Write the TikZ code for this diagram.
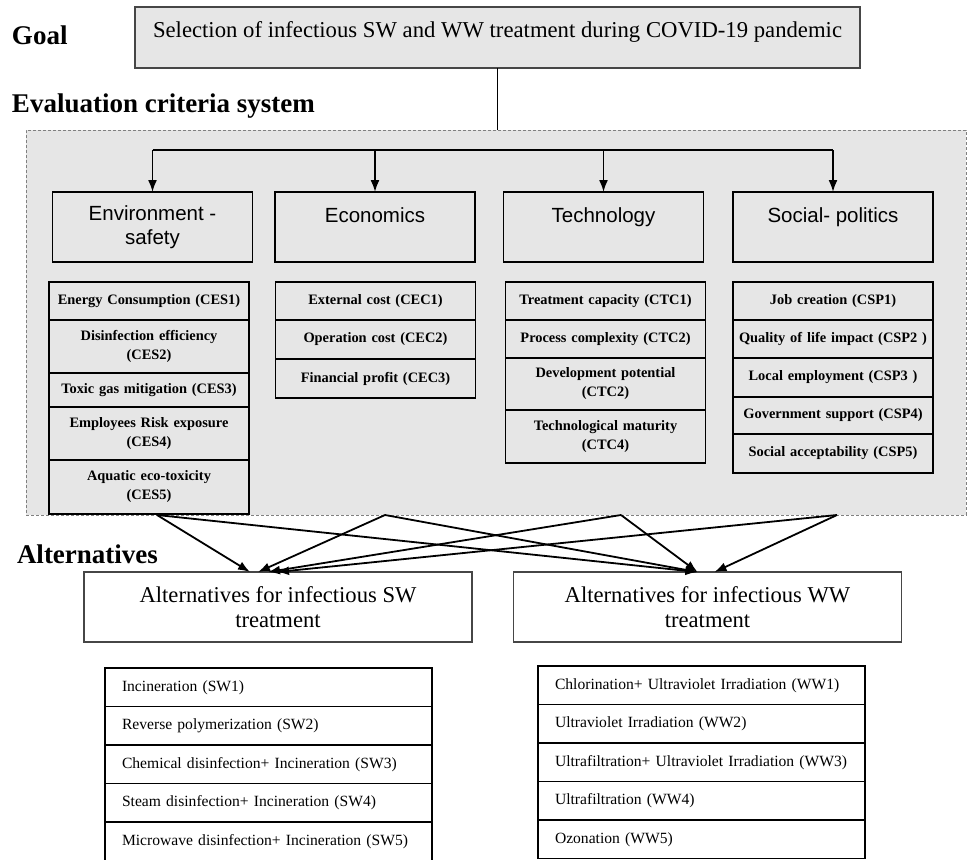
\documentclass[tikz,border=0pt]{standalone}
\usepackage{fontspec}
\setmainfont{Liberation Serif}
\newfontfamily\catfont{Liberation Sans}
\usepackage{xcolor}
\usepackage{tikz}
\usetikzlibrary{positioning, arrows.meta}
\definecolor{boxgray}{RGB}{230,230,230}
\definecolor{edgegray}{RGB}{70,70,70}
\tikzset{
    heading/.style = {
        anchor     = base west,
        inner sep  = 0pt,
        font       = \bfseries\fontsize{27}{31}\selectfont,
    },
    goalbox/.style = {
        draw           = edgegray,
        line width     = 1.6pt,
        fill           = boxgray,
        minimum width  = 725pt,
        minimum height = 61pt,
        inner sep      = 0pt,
        text height    = 15pt,
        text depth     = 15pt,
        font           = \fontsize{22.7}{27}\selectfont,
    },
    critregion/.style = {
        draw           = gray,
        densely dashed,
        fill           = boxgray,
        minimum width  = 940pt,
        minimum height = 385pt,
    },
    catbox/.style = {
        draw,
        line width     = 1.4pt,
        fill           = boxgray,
        minimum width  = 200pt,
        minimum height = 70pt,
        align          = center,
        font           = \catfont\fontsize{20.5}{24}\selectfont,
    },
    critbox/.style = {
        draw,
        line width     = 1.3pt,
        fill           = boxgray,
        text width     = 194pt,
        inner xsep     = 3pt,
        inner ysep     = 0pt,
        minimum height = 38pt,
        align          = center,
        font           = \bfseries\fontsize{14.4}{19}\selectfont,
    },
    altbox/.style = {
        draw           = edgegray,
        line width     = 1.2pt,
        fill           = white,
        minimum width  = 388pt,
        minimum height = 70pt,
        align          = center,
        font           = \fontsize{22.6}{25}\selectfont,
    },
    optbox/.style = {
        draw,
        line width     = 1.2pt,
        text width     = 293pt,
        inner xsep     = 17pt,
        inner ysep     = 0pt,
        minimum height = 38.5pt,
        align          = left,
        font           = \fontsize{15.6}{19}\selectfont,
    },
    link/.style = {
        line width = 1.8pt,
        -{Latex[length=12pt, width=9pt]},
    },
}

\begin{document}
\begin{tikzpicture}[x=1pt, y=-1pt, every node/.style = {outer sep = 0pt}]
    \useasboundingbox (0,0) rectangle (968,859);

    \node (goallbl) [heading] at (12,45) {Goal};
    \node (goal) [goalbox] at (497.5,37.5) {Selection of infectious SW and WW treatment during COVID-19 pandemic};

    \node (evallbl) [heading] at (12,112) {Evaluation criteria system};
    \node (crit) [critregion] at (496,322.5) {};
    \draw [line width=1pt] (goal.south) -- (goal.south |- crit.north);

    \node (env)  [catbox] at (152.5,227) {Environment -\\safety};
    \node (econ) [catbox] at (375,227)   {Economics\\~};
    \node (tech) [catbox] at (603.5,227) {Technology\\~};
    \node (soc)  [catbox] at (833,227)   {Social- politics\\~};

    \coordinate (bar) at (497,150);
    \draw [line width=1.8pt] (bar -| env.north) -- (bar -| soc.north);
    \draw [link] (bar -| env.north) -- (env.north);
    \draw [link] (bar -| econ.north) -- (econ.north);
    \draw [link] (bar -| tech.north) -- (tech.north);
    \draw [link] (bar -| soc.north) -- (soc.north);

    \node (ces1) [critbox, anchor=north] at (149,282) {Energy Consumption (CES1)};
    \node (ces2) [critbox, minimum height=53pt, below=0pt of ces1] {Disinfection efficiency\\(CES2)};
    \node (ces3) [critbox, minimum height=34pt, below=0pt of ces2] {Toxic gas mitigation (CES3)};
    \node (ces4) [critbox, minimum height=53pt, below=0pt of ces3] {Employees Risk exposure\\(CES4)};
    \node (ces5) [critbox, minimum height=54pt, below=0pt of ces4] {Aquatic eco-toxicity\\(CES5)};

    \node (cec1) [critbox, anchor=north] at (375.5,282) {External cost (CEC1)};
    \node (cec2) [critbox, minimum height=39pt, below=0pt of cec1] {Operation cost (CEC2)};
    \node (cec3) [critbox, minimum height=39pt, below=0pt of cec2] {Financial profit (CEC3)};

    \node (ctc1) [critbox, anchor=north] at (605.5,282) {Treatment capacity (CTC1)};
    \node (ctc2) [critbox, below=0pt of ctc1] {Process complexity (CTC2)};
    \node (ctc3) [critbox, minimum height=52pt, below=0pt of ctc2] {Development potential\\(CTC2)};
    \node (ctc4) [critbox, minimum height=53pt, below=0pt of ctc3] {Technological maturity\\(CTC4)};

    \node (csp1) [critbox, anchor=north] at (833,282) {Job creation (CSP1)};
    \node (csp2) [critbox, below=0pt of csp1] {Quality of life impact (CSP2 )};
    \node (csp3) [critbox, minimum height=39pt, below=0pt of csp2] {Local employment (CSP3 )};
    \node (csp4) [critbox, minimum height=37pt, below=0pt of csp3] {Government support (CSP4)};
    \node (csp5) [critbox, minimum height=39pt, below=0pt of csp4] {Social acceptability (CSP5)};

    \node (altlbl) [heading] at (17,563) {Alternatives};
    \node (swalt) [altbox] at (278,607)   {Alternatives for infectious SW\\treatment};
    \node (wwalt) [altbox] at (707.5,607) {Alternatives for infectious WW\\treatment};

    \coordinate (o1) at (157,515);
    \coordinate (o2) at (385,515);
    \coordinate (o3) at (621,515);
    \coordinate (o4) at (837,515);
    \draw [link] (o1) -- ([xshift=-28pt]swalt.north);
    \draw [link] (o2) -- ([xshift=-20pt]swalt.north);
    \draw [link] (o3) -- ([xshift=-10pt]swalt.north);
    \draw [link] (o4) -- ([xshift=-1pt]swalt.north);
    \draw [link] (o1) -- ([xshift=-10pt]wwalt.north);
    \draw [link] (o2) -- ([xshift=-10pt]wwalt.north);
    \draw [link] (o3) -- ([xshift=-10pt]wwalt.north);
    \draw [link] (o4) -- ([xshift=7pt]wwalt.north);

    \node (sw1) [optbox, anchor=north] at (268.5,668) {Incineration (SW1)};
    \node (sw2) [optbox, below=0pt of sw1] {Reverse polymerization (SW2)};
    \node (sw3) [optbox, below=0pt of sw2] {Chemical disinfection+ Incineration (SW3)};
    \node (sw4) [optbox, below=0pt of sw3] {Steam disinfection+ Incineration (SW4)};
    \node (sw5) [optbox, below=0pt of sw4] {Microwave disinfection+ Incineration (SW5)};

    \node (ww1) [optbox, anchor=north] at (701.5,666) {Chlorination+ Ultraviolet Irradiation (WW1)};
    \node (ww2) [optbox, below=0pt of ww1] {Ultraviolet Irradiation (WW2)};
    \node (ww3) [optbox, below=0pt of ww2] {Ultrafiltration+ Ultraviolet Irradiation (WW3)};
    \node (ww4) [optbox, below=0pt of ww3] {Ultrafiltration (WW4)};
    \node (ww5) [optbox, below=0pt of ww4] {Ozonation (WW5)};

\end{tikzpicture}
\end{document}
